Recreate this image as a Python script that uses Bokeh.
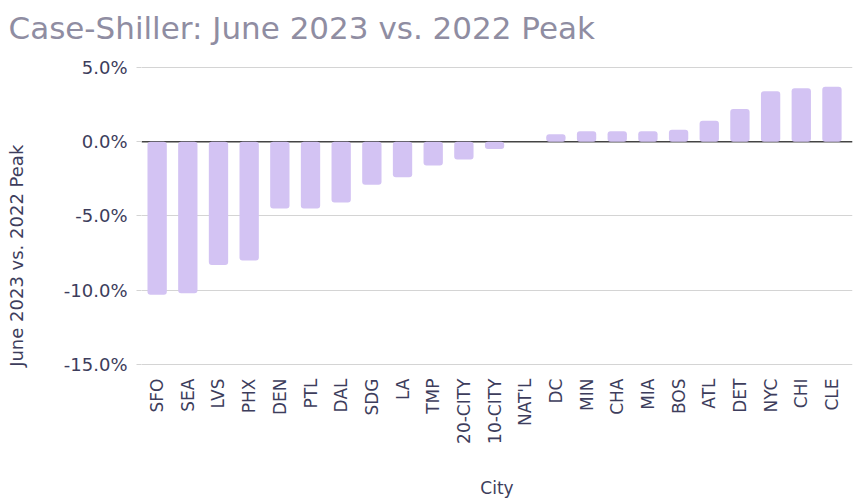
from bokeh.plotting import figure
from bokeh.models import ColumnDataSource, FixedTicker, PrintfTickFormatter, Span, Range1d
from bokeh.embed import file_html
from bokeh.resources import INLINE
import math

cities = ["SFO", "SEA", "LVS", "PHX", "DEN", "PTL", "DAL", "SDG", "LA", "TMP",
          "20-CITY", "10-CITY", "NAT'L", "DC", "MIN", "CHA", "MIA", "BOS", "ATL",
          "DET", "NYC", "CHI", "CLE"]
change_pct = [-10.3, -10.2, -8.3, -8.0, -4.5, -4.5, -4.1, -2.9, -2.4, -1.6,
              -1.2, -0.5, 0.0, 0.5, 0.7, 0.7, 0.7, 0.8, 1.4,
              2.2, 3.4, 3.6, 3.7]
y_ticks = [-15, -10, -5, 0, 5]

idx = list(range(len(cities)))
src = ColumnDataSource(dict(x=idx, y=change_pct))

FONT = "DejaVu Sans"
INK = "#3d3d5c"

p = figure(width=856, height=500, output_backend="svg", toolbar_location=None,
           x_range=Range1d(-0.51, len(cities) - 1 + 0.67),
           y_range=Range1d(-15.2, 6.0),
           min_border_left=141, min_border_right=4, min_border_top=0,
           min_border_bottom=0)

p.title.text = "Case-Shiller: June 2023 vs. 2022 Peak"
p.title.text_font = FONT
p.title.text_font_size = "31px"
p.title.text_font_style = "normal"
p.title.text_color = "#8f8da2"
p.title.text_line_height = 1.0
p.title.offset = -133
p.title.standoff = 14

p.outline_line_color = None
p.background_fill_color = "white"
p.border_fill_color = "white"

p.xgrid.grid_line_color = None
p.ygrid.grid_line_color = "#d4d4d4"
p.ygrid.grid_line_width = 1

zero = Span(location=0, dimension="width", line_color="#444444", line_width=1.5,
            level="underlay")
p.add_layout(zero)

p.vbar(x="x", top="y", bottom=0, width=0.63, source=src,
       fill_color="#d3c3f3", line_color=None, border_radius=3)

# y axis
p.yaxis.ticker = FixedTicker(ticks=y_ticks)
p.yaxis.formatter = PrintfTickFormatter(format="%.1f%%")
p.yaxis.axis_line_color = None
p.yaxis.major_tick_line_color = "#d4d4d4"
p.yaxis.major_tick_out = 5
p.yaxis.major_tick_in = 0
p.yaxis.minor_tick_line_color = None
p.yaxis.major_label_text_font = FONT
p.yaxis.major_label_text_font_size = "18px"
p.yaxis.major_label_text_color = INK
p.yaxis.major_label_standoff = 9
# trailing no-break spaces shift the centred label toward the bottom of the axis
p.yaxis.axis_label = "June 2023 vs. 2022 Peak" + "\u00a0" * 16
p.yaxis.axis_label_text_font = FONT
p.yaxis.axis_label_text_font_size = "18px"
p.yaxis.axis_label_text_font_style = "normal"
p.yaxis.axis_label_text_color = INK
p.yaxis.axis_label_standoff = 34

# x axis
p.xaxis.ticker = FixedTicker(ticks=idx)
p.xaxis.major_label_overrides = {i: c for i, c in zip(idx, cities)}
p.xaxis.major_label_orientation = math.pi / 2
p.xaxis.axis_line_color = None
p.xaxis.major_tick_line_color = None
p.xaxis.minor_tick_line_color = None
p.xaxis.major_label_text_font = FONT
p.xaxis.major_label_text_font_size = "17px"
p.xaxis.major_label_text_color = INK
p.xaxis.major_label_standoff = 5
p.xaxis.axis_label = "City"
p.xaxis.axis_label_text_font = FONT
p.xaxis.axis_label_text_font_size = "17px"
p.xaxis.axis_label_text_font_style = "normal"
p.xaxis.axis_label_text_color = INK
p.xaxis.axis_label_standoff = 31

open("out.html", "w").write(file_html(p, INLINE))
